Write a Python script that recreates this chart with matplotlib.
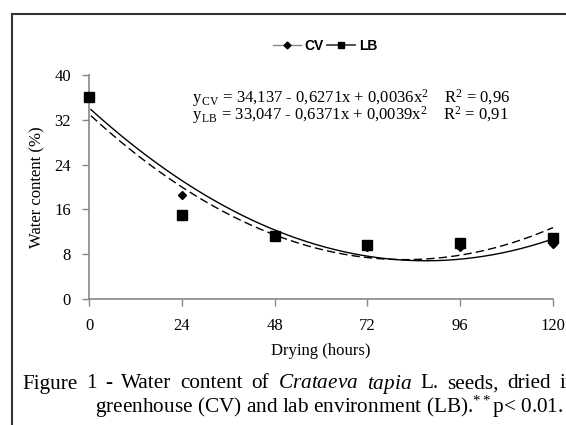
import numpy as np
import matplotlib.pyplot as plt
from matplotlib.lines import Line2D
from matplotlib.patches import Rectangle

plt.rcParams['font.family'] = ['Liberation Serif', 'DejaVu Serif']
plt.rcParams['mathtext.fontset'] = 'custom'
plt.rcParams['mathtext.rm'] = 'Liberation Serif'
plt.rcParams['mathtext.it'] = 'Liberation Serif:italic'

# drying time (hours) and water content (%)
hours = [0, 24, 48, 72, 96, 120]
cv = [36.0, 18.6, 11.2, 9.3, 9.3, 9.8]
lb = [36.1, 15.0, 11.2, 9.6, 10.0, 10.9]

# fitted quadratic coefficients (c0, c1, c2) as printed
coef_cv = [34.137, -0.6271, 0.0036]
coef_lb = [33.047, -0.6371, 0.0039]

xticks = [0, 24, 48, 72, 96, 120]
yticks = [0, 8, 16, 24, 32, 40]

W, H = 566, 425
fig = plt.figure(figsize=(W / 100, H / 100), dpi=100)
ax = fig.add_axes([89 / W, 1 - 299 / H, 464 / W, 224 / H])

x = np.linspace(0.5, 120, 300)
fit_cv = coef_cv[0] + coef_cv[1] * x + coef_cv[2] * x**2
fit_lb = coef_lb[0] + coef_lb[1] * x + coef_lb[2] * x**2
ax.plot(x, fit_cv, color='black', lw=1.0, clip_on=False)
ax.plot(x, fit_lb, color='black', lw=1.0, ls=(0, (6, 3)), clip_on=False)

ax.plot(hours, lb, 's', color='black', ms=7, clip_on=False, zorder=3)
ax.plot(hours, cv, 'D', color='black', ms=4.5, clip_on=False, zorder=4)

ax.set_xlim(0, 120)
ax.set_ylim(0, 40)
ax.set_xticks(xticks)
ax.set_yticks(yticks)
ax.tick_params(colors='#888888', labelcolor='black', labelsize=12, length=5, width=1)
ax.tick_params(axis='x', pad=9)
ax.tick_params(axis='y', pad=8)
for s in ['top', 'right']:
    ax.spines[s].set_visible(False)
for s in ['left', 'bottom']:
    ax.spines[s].set_color('#888888')
    ax.spines[s].set_linewidth(1.2)

ax.set_xlabel('Drying (hours)', fontsize=12, labelpad=6)
ax.set_ylabel('Water content (%)', fontsize=12, labelpad=6)

eq_cv = r'y$_{\,\rm CV}$ = 34,137 - 0,6271x + 0,0036x$^2$    R$^2$ = 0,96'
eq_lb = r'y$_{\,\rm LB}$ = 33,047 - 0,6371x + 0,0039x$^2$    R$^2$ = 0,91'
fig.text(192 / W, 1 - 98 / H, eq_cv, fontsize=12, va='center')
fig.text(192 / W, 1 - 115 / H, eq_lb, fontsize=12, va='center')

handles = [
    Line2D([], [], color='#888888', lw=1, marker='D', ms=3.5,
           mfc='black', mec='black', label='CV'),
    Line2D([], [], color='#444444', lw=1.3, marker='s', ms=5,
           mfc='black', mec='black', label='LB'),
]
fig.legend(handles=handles, loc='center', bbox_to_anchor=(325 / W, 1 - 46 / H),
           ncol=2, frameon=False, handlelength=2.0, handletextpad=0.3,
           columnspacing=0.2, prop={'family': 'Liberation Sans', 'weight': 'bold', 'size': 10})

# caption, first line justified between x=22 and x=576 px
words = ['Figure', '1', '-', 'Water', 'content', 'of', r'$\it{Crataeva}$',
         r'$\it{tapia}$', 'L.', 'seeds,', 'dried', 'in']
r = fig.canvas.get_renderer()
texts = [fig.text(0, 1 - 384 / H, w, fontsize=15.3, va='center') for w in words]
widths = [t.get_window_extent(r).width for t in texts]
gap = (576 - 22 - sum(widths)) / (len(words) - 1)
pos = 22
for t, w in zip(texts, widths):
    t.set_x(pos / W)
    pos += w + gap

fig.text(95 / W, 1 - 407 / H,
         r'greenhouse (CV) and lab environment (LB).$^{**}$p< 0.01.',
         fontsize=15.3, va='center')

fig.add_artist(Rectangle((12 / W, -0.1), 1.2, 1 - 14 / H + 0.1,
                         transform=fig.transFigure, fill=False,
                         edgecolor='#333333', lw=1.5))

fig.savefig('out.png', dpi=100)
